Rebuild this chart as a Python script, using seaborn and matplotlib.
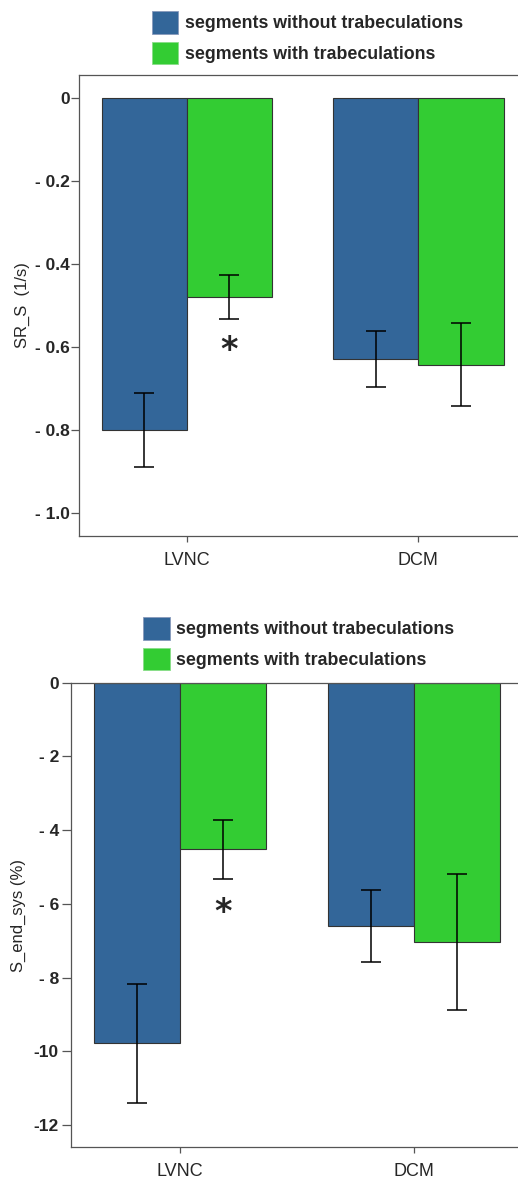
import pandas as pd
import matplotlib.pyplot as plt
import matplotlib as mpl
import seaborn as sns
from matplotlib.patches import Patch

sns.set_style('white')
mpl.rcParams['font.family'] = ['Liberation Sans', 'DejaVu Sans']

groups = ['LVNC', 'DCM']
segments = ['segments without trabeculations', 'segments with trabeculations']
colors = ['#336699', '#33CC33']

# SR_S (1/s): means and half-widths of error bars, per segment type
srs_without = [-0.80, -0.629]
srs_without_err = [0.090, 0.068]
srs_with = [-0.478, -0.642]
srs_with_err = [0.053, 0.100]
srs_ticks = [0, -0.2, -0.4, -0.6, -0.8, -1.0]
srs_ticklabels = ['0', '- 0.2', '- 0.4', '- 0.6', '- 0.8', '- 1.0']

# S_end_sys (%)
ses_without = [-9.78, -6.60]
ses_without_err = [1.61, 0.97]
ses_with = [-4.52, -7.03]
ses_with_err = [0.80, 1.85]
ses_ticks = [0, -2, -4, -6, -8, -10, -12]
ses_ticklabels = ['0', '- 2', '- 4', '- 6', '- 8', '-10', '-12']

# significance markers: (group, segment, y)
srs_star = ('LVNC', 1, -0.607)
ses_star = ('LVNC', 1, -6.22)


def make_df(without, with_):
    rows = []
    for g, v in zip(groups, without):
        rows.append({'group': g, 'segment': segments[0], 'value': v})
    for g, v in zip(groups, with_):
        rows.append({'group': g, 'segment': segments[1], 'value': v})
    return pd.DataFrame(rows)


def draw_panel(ax, without, without_err, with_, with_err, ticks, ticklabels,
               ylim, xlim, ylabel, star, tick_len, tick_pad):
    df = make_df(without, with_)
    sns.barplot(data=df, x='group', y='value', hue='segment', order=groups,
                hue_order=segments, palette=colors, saturation=1, width=0.736,
                errorbar=None, edgecolor='#333333', linewidth=0.8,
                legend=False, ax=ax)
    bars = list(ax.containers)
    errs = [without_err, with_err]
    vals = [without, with_]
    for ci, cont in enumerate(bars):
        xs = [b.get_x() + b.get_width() / 2 for b in cont]
        ax.errorbar(xs, vals[ci], yerr=errs[ci], fmt='none', ecolor='black',
                    elinewidth=1.1, capsize=7.5, capthick=1.1, zorder=5)
    g, si, y = star
    bar = bars[si][groups.index(g)]
    ax.text(bar.get_x() + bar.get_width() / 2, y, '*', ha='center', va='center',
            fontsize=24, fontweight='bold', family='DejaVu Sans')

    ax.set_ylim(*ylim)
    ax.set_xlim(*xlim)
    ax.set_yticks(ticks)
    ax.set_yticklabels(ticklabels, fontsize=12.5, fontweight='bold')
    ax.set_xlabel('')
    ax.set_ylabel(ylabel, fontsize=12)
    ax.tick_params(axis='x', labelsize=13, length=4.5, width=0.9,
                   color='#555555', pad=7, bottom=True)
    ax.tick_params(axis='y', length=tick_len, width=0.9, color='#555555',
                   pad=tick_pad, left=True)
    ax.spines['right'].set_visible(False)
    for side in ['left', 'bottom', 'top']:
        ax.spines[side].set_color('#555555')
        ax.spines[side].set_linewidth(0.9)


fig = plt.figure(figsize=(5.18, 11.8), dpi=100)
ax1 = fig.add_axes([0.1525, 0.5458, 0.8475, 0.3907])
ax2 = fig.add_axes([0.1365, 0.0277, 0.8635, 0.3937])

draw_panel(ax1, srs_without, srs_without_err, srs_with, srs_with_err,
           srs_ticks, srs_ticklabels, (-1.055, 0.056), (-0.466, 1.43),
           'SR_S  (1/s)', srs_star, 5.5, 1)
ax1.yaxis.set_label_coords(-0.112, 0.5)

draw_panel(ax2, ses_without, ses_without_err, ses_with, ses_with_err,
           ses_ticks, ses_ticklabels, (-12.6, 0), (-0.467, 1.444),
           'S_end_sys (%)', ses_star, 6.5, 2)
ax2.yaxis.set_label_coords(-0.100, 0.5)

handles = [Patch(facecolor=c, edgecolor='#8899bb' if i == 0 else '#88dd88',
                 linewidth=0.6) for i, c in enumerate(colors)]
leg_kw = dict(frameon=False, loc='upper left', borderpad=0, borderaxespad=0,
              handlelength=1.5, handleheight=1.6, handletextpad=0.35,
              labelspacing=0.45, prop={'size': 12.8, 'weight': 'bold'})
fig.legend(handles, segments, bbox_to_anchor=(151.7 / 518, 1 - 10.7 / 1180), **leg_kw)
fig.legend(handles, segments, bbox_to_anchor=(143.3 / 518, 1 - 616.7 / 1180), **leg_kw)

fig.savefig('out.png', dpi=100)
